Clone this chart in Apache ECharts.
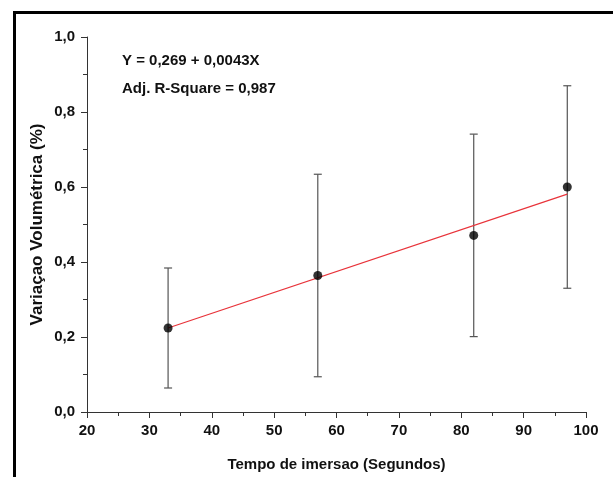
<!DOCTYPE html>
<html>
<head>
<meta charset="utf-8">
<script src="https://cdn.jsdelivr.net/npm/echarts@6/dist/echarts.min.js"></script>
<style>
  html, body { margin: 0; padding: 0; background: #fff; }
  #chart { width: 613px; height: 477px; }
</style>
</head>
<body>
<div id="chart"></div>
<script>
  // tempo de imersao (s) e variacao volumetrica media (%)
  var tempos = [33, 57, 82, 97];
  var medias = [0.224, 0.364, 0.471, 0.600];
  var erros = [0.160, 0.270, 0.270, 0.270];

  // reta ajustada (extremos)
  var ajusteX = [33, 97];
  var ajusteY = [0.224, 0.581];

  var textoEq = 'Y = 0,269 + 0,0043X';
  var textoR2 = 'Adj. R-Square = 0,987';

  var fonte = '"Liberation Sans", Arial, sans-serif';

  var pontos = tempos.map(function (t, i) { return [t, medias[i]]; });
  var barras = tempos.map(function (t, i) { return [t, medias[i] - erros[i], medias[i] + erros[i]]; });
  var reta = ajusteX.map(function (x, i) { return [x, ajusteY[i]]; });

  var chart = echarts.init(document.getElementById('chart'));

  var option = {
    animation: false,
    backgroundColor: '#fff',
    grid: { left: 87, right: 27, top: 37, bottom: 65 },
    graphic: [
      {
        type: 'polyline',
        shape: { points: [[14.5, 480], [14.5, 12.5], [620, 12.5]] },
        style: { stroke: '#000', lineWidth: 3, fill: null }
      },
      {
        type: 'text', left: 122, top: 53,
        style: { text: textoEq, font: 'bold 15px ' + fonte, fill: '#111' }
      },
      {
        type: 'text', left: 122, top: 81,
        style: { text: textoR2, font: 'bold 15px ' + fonte, fill: '#111' }
      }
    ],
    xAxis: {
      type: 'value', min: 20, max: 100, interval: 10,
      name: 'Tempo de imersao (Segundos)',
      nameLocation: 'middle', nameGap: 45, nameMoveOverlap: false,
      nameTextStyle: { fontFamily: fonte, fontWeight: 'bold', fontSize: 15, color: '#111' },
      axisLine: { show: true, onZero: false, lineStyle: { color: '#333', width: 1 } },
      axisTick: { show: true, length: 6, lineStyle: { color: '#333' } },
      minorTick: { show: true, splitNumber: 2, length: 4, lineStyle: { color: '#333' } },
      splitLine: { show: false },
      axisLabel: { fontFamily: fonte, fontWeight: 'bold', fontSize: 15, color: '#111', margin: 11 }
    },
    yAxis: {
      type: 'value', min: 0, max: 1, interval: 0.2,
      name: 'Variaçao Volumétrica (%)',
      nameLocation: 'middle', nameGap: 41, nameMoveOverlap: false,
      nameTextStyle: { fontFamily: fonte, fontWeight: 'bold', fontSize: 17, color: '#111' },
      axisLine: { show: true, onZero: false, lineStyle: { color: '#333', width: 1 } },
      axisTick: { show: true, length: 6, lineStyle: { color: '#333' } },
      minorTick: { show: true, splitNumber: 2, length: 4, lineStyle: { color: '#333' } },
      splitLine: { show: false },
      axisLabel: {
        fontFamily: fonte, fontWeight: 'bold', fontSize: 15, color: '#111', margin: 12,
        formatter: function (v) { return v.toFixed(1).replace('.', ','); }
      }
    },
    series: [
      {
        type: 'custom',
        data: barras,
        z: 2,
        renderItem: function (params, api) {
          var x = api.value(0);
          var lo = api.coord([x, api.value(1)]);
          var hi = api.coord([x, api.value(2)]);
          var w = 4;
          var st = { stroke: '#555', lineWidth: 1.2 };
          return {
            type: 'group',
            children: [
              { type: 'line', shape: { x1: lo[0], y1: lo[1], x2: hi[0], y2: hi[1] }, style: st },
              { type: 'line', shape: { x1: lo[0] - w, y1: lo[1], x2: lo[0] + w, y2: lo[1] }, style: st },
              { type: 'line', shape: { x1: hi[0] - w, y1: hi[1], x2: hi[0] + w, y2: hi[1] }, style: st }
            ]
          };
        }
      },
      {
        type: 'line',
        data: reta,
        z: 3,
        symbol: 'none',
        lineStyle: { color: '#e8333a', width: 1.2 }
      },
      {
        type: 'scatter',
        data: pontos,
        z: 4,
        symbolSize: 9,
        itemStyle: { color: '#000' }
      }
    ]
  };

  chart.setOption(option);
</script>
</body>
</html>
